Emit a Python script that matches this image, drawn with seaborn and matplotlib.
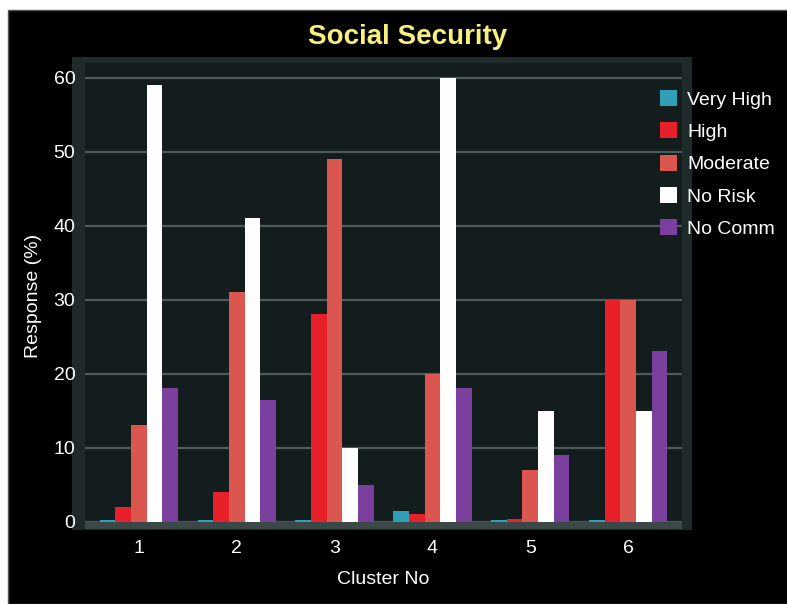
import pandas as pd
import seaborn as sns
import matplotlib.pyplot as plt
from matplotlib.patches import Rectangle

# values
clusters = ['1', '2', '3', '4', '5', '6']
risk_levels = ['Very High', 'High', 'Moderate', 'No Risk', 'No Comm']
very_high = [0.2, 0.2, 0.2, 1.5, 0.2, 0.2]
high = [2, 4, 28, 1, 0.3, 30]
moderate = [13, 31, 49, 20, 7, 30]
no_risk = [59, 41, 10, 60, 15, 15]
no_comm = [18, 16.5, 5, 18, 9, 23]
colors = ['#2E9FB5', '#E8202A', '#DC5650', '#FFFFFF', '#7B3F9E']

rows = []
for level, vals in zip(risk_levels, [very_high, high, moderate, no_risk, no_comm]):
    for c, v in zip(clusters, vals):
        rows.append({'Cluster No': c, 'Risk': level, 'Response': v})
df = pd.DataFrame(rows)

sns.set_style('dark')
plt.rcParams['font.family'] = ['Liberation Sans', 'DejaVu Sans']

fig = plt.figure(figsize=(7.87, 6.04), dpi=100, facecolor='white')
# black card with white margin at top/left like the reference
fig.patches.append(Rectangle((8 / 787, 0), 1, 594 / 604, transform=fig.transFigure,
                             facecolor='black', edgecolor='#555555', lw=1, zorder=-10))
# lighter frame around the plot panel
fig.patches.append(Rectangle((72 / 787, 74 / 604), 620 / 787, 473 / 604, transform=fig.transFigure,
                             facecolor='#1f2b2b', edgecolor='none', zorder=-9))

ax = fig.add_axes([85 / 787, 75 / 604, 597 / 787, 466 / 604])
ax.set_zorder(1)
ax.set_facecolor('#141d1d')

sns.barplot(data=df, x='Cluster No', y='Response', hue='Risk', order=clusters,
            hue_order=risk_levels, palette=colors, width=0.8, saturation=1,
            edgecolor='none', ax=ax, zorder=3)

ax.set_ylim(-1, 62)
ax.set_xlim(-0.55, 5.55)
ax.set_yticks(range(0, 61, 10))
ax.axhspan(-1, 0, color='#3a4848', zorder=2)
ax.grid(axis='y', color='#4c5a5a', lw=1.6, zorder=1)
ax.grid(axis='x', visible=False)
for s in ax.spines.values():
    s.set_visible(False)
ax.tick_params(colors='white', labelsize=14, length=0)
ax.tick_params(axis='y', pad=7)
ax.tick_params(axis='x', pad=8)
ax.set_xlabel('Cluster No', color='white', fontsize=14, labelpad=10)
ax.set_ylabel('Response (%)', color='white', fontsize=14, labelpad=8)

fig.text(0.518, 0.938, 'Social Security', color='#F7F07A', fontsize=20,
         fontweight='bold', ha='center', va='center')

handles, labels = ax.get_legend_handles_labels()
ax.legend(handles, labels, loc='upper left', bbox_to_anchor=(652 / 787, 1 - 82 / 604),
          bbox_transform=fig.transFigure, frameon=False, fontsize=14,
          labelcolor='white', handlelength=0.9, handleheight=0.9, handletextpad=0.5,
          labelspacing=0.7, borderaxespad=0)

fig.savefig('out.png', dpi=100, facecolor=fig.get_facecolor())
